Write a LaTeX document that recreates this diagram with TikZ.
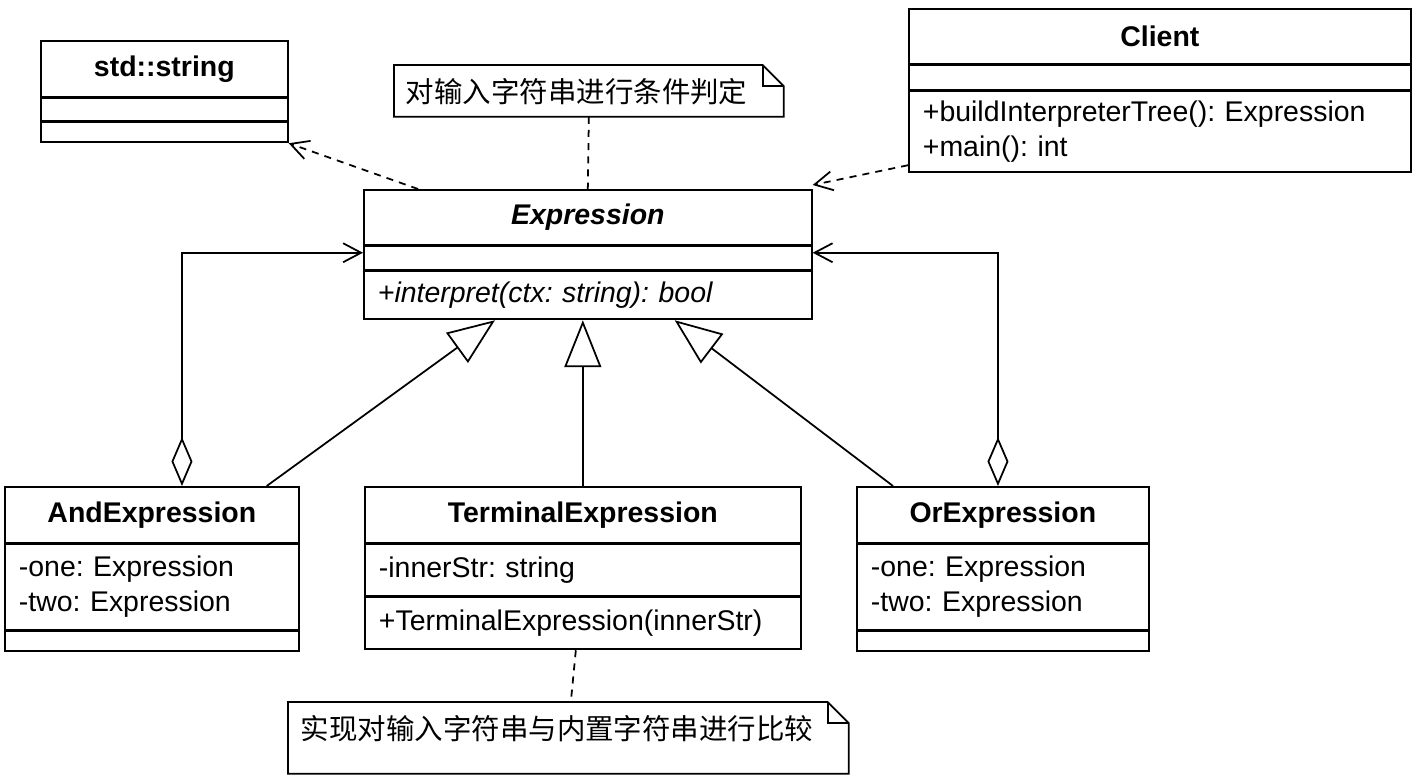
\documentclass[tikz,border=0pt]{standalone}
\usepackage{fontspec}
\setmainfont{Liberation Sans}
\newfontfamily\cjk{Noto Sans CJK SC}
\usetikzlibrary{arrows.meta}
\newcommand{\umlsize}{\fontsize{16.2}{19.9}\selectfont\frenchspacing}

\begin{document}
\begin{tikzpicture}[x=0.02cm, y=-0.02cm, line width=1pt,
    title/.style={draw, anchor=north west, inner sep=0pt, font=\umlsize\bfseries},
    part/.style={draw, anchor=north west, inner xsep=0.28cm, inner ysep=0pt, align=left, font=\umlsize},
    note/.style={anchor=north west, inner ysep=0pt, align=left, font=\umlsize\cjk},
    dep/.style={dash pattern=on 4pt off 3.5pt},
    assoc/.style={arrows={-Straight Barb[length=0.36cm, width=0.38cm]}},
    aggr/.style={arrows={Diamond[open, length=0.98cm, width=0.42cm]-Straight Barb[length=0.36cm, width=0.38cm]}},
    inherit/.style={arrows={-Triangle[open, length=0.94cm, width=0.74cm]}}]
    \useasboundingbox (0,0) rectangle (1421,776);

    % std::string
    \node[title, minimum width=4.94cm, minimum height=1.12cm] (str) at (40,40) {std::string};
    \node[part, minimum width=4.94cm, text width=4.38cm, minimum height=0.44cm] (strattr) at (str.south west) {};
    \node[part, minimum width=4.94cm, text width=4.38cm, minimum height=0.40cm] (strops) at (strattr.south west) {};

    % Client
    \node[title, minimum width=10.04cm, minimum height=1.10cm] (client) at (908,8) {Client};
    \node[part, minimum width=10.04cm, text width=9.48cm, minimum height=0.48cm] (clientattr) at (client.south west) {};
    \node[part, minimum width=10.04cm, text width=9.48cm, minimum height=1.62cm] (clientops) at (clientattr.south west) {+buildInterpreterTree(): Expression\\+main(): int};

    % Expression
    \node[title, font=\umlsize\bfseries\itshape, minimum width=8.96cm, minimum height=1.10cm] (expr) at (363,189) {Expression};
    \node[part, minimum width=8.96cm, text width=8.40cm, minimum height=0.46cm] (exprattr) at (expr.south west) {};
    \node[part, font=\umlsize\itshape, minimum width=8.96cm, text width=8.40cm, minimum height=0.96cm] (exprops) at (exprattr.south west) {+interpret(ctx: string): bool};

    % AndExpression
    \node[title, minimum width=5.88cm, minimum height=1.12cm] (and) at (4,486) {AndExpression};
    \node[part, minimum width=5.88cm, text width=5.32cm, minimum height=1.70cm] (andattr) at (and.south west) {-one: Expression\\-two: Expression};
    \node[part, minimum width=5.88cm, text width=5.32cm, minimum height=0.40cm] (andops) at (andattr.south west) {};

    % TerminalExpression
    \node[title, minimum width=8.72cm, minimum height=1.12cm] (term) at (364,486) {TerminalExpression};
    \node[part, minimum width=8.72cm, text width=8.16cm, minimum height=1.02cm] (termattr) at (term.south west) {-innerStr: string};
    \node[part, minimum width=8.72cm, text width=8.16cm, minimum height=1.04cm] (termops) at (termattr.south west) {+TerminalExpression(innerStr)};

    % OrExpression
    \node[title, minimum width=5.84cm, minimum height=1.12cm] (or) at (856,486) {OrExpression};
    \node[part, minimum width=5.84cm, text width=5.28cm, minimum height=1.70cm] (orattr) at (or.south west) {-one: Expression\\-two: Expression};
    \node[part, minimum width=5.84cm, text width=5.28cm, minimum height=0.40cm] (orops) at (orattr.south west) {};

    % notes
    \node[note, inner xsep=0.22cm, text width=7.32cm, text height=0.73cm, text depth=0.27cm] (note1) at (394,65) {对输入字符串进行条件判定};
    \node[note, inner xsep=0.24cm, text width=10.70cm, text height=0.74cm, text depth=0.66cm] (note2) at (288,702) {实现对输入字符串与内置字符串进行比较};
    \foreach \n in {note1, note2} {
        \draw (\n.south west) -- (\n.north west) -- ([xshift=-0.42cm]\n.north east) -- ([yshift=-0.42cm]\n.north east) -- (\n.south east) -- cycle;
        \draw ([xshift=-0.42cm]\n.north east) |- ([yshift=-0.42cm]\n.north east);
    }

    % dependencies
    \draw[dep, assoc] ([xshift=1.1cm]expr.north west) -- (strops.south east);
    \draw[dep, assoc] ([yshift=0.16cm]clientops.south west) -- ([yshift=0.08cm]expr.north east);
    \draw[dep] (note1.south) -- (expr.north);
    \draw[dep] ([xshift=-0.14cm]termops.south) -- ([xshift=0.05cm]note2.north);

    % aggregation
    \draw[aggr] ([xshift=3.56cm]and.north west) |- ([yshift=-0.14cm]expr.south west);
    \draw[aggr] ([xshift=2.84cm]or.north west) |- ([yshift=-0.14cm]expr.south east);

    % generalization
    \draw[inherit] ([xshift=-0.66cm]and.north east) -- ([xshift=2.64cm]exprops.south west);
    \draw[inherit] (term.north) -- (term.north |- exprops.south);
    \draw[inherit] ([xshift=0.74cm]or.north west) -- ([xshift=-2.76cm]exprops.south east);
\end{tikzpicture}
\end{document}
